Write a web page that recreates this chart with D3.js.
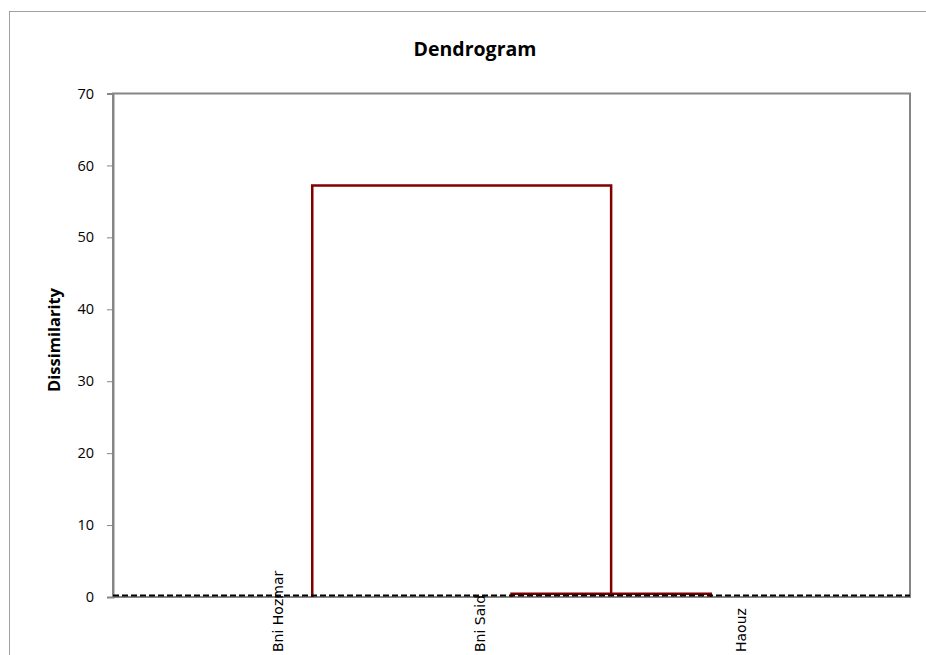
<!DOCTYPE html>
<html>
<head>
<meta charset="utf-8">
<script src="https://cdn.jsdelivr.net/npm/d3@7"></script>
<style>
  body { margin: 0; background: #fff; }
</style>
</head>
<body>
<script>
// leaves, in order along the axis
var leaves = ["Bni Hozmar", "Bni Said", "Haouz"];
var leafPos = [1, 2, 3];
// where excel puts the category labels (axis units)
var labelPos = [0.83, 1.84, 3.15];
// merges: [left pos, right pos, left height, right height, merge height]
var mergeLeft = [2, 1];
var mergeRight = [3, 2.5];
var mergeLowL = [0, 0];
var mergeLowR = [0, 0.45];
var mergeHeight = [0.45, 57.2];
var cutLevel = 0.2;
var yTicks = [0, 10, 20, 30, 40, 50, 60, 70];

var W = 926, H = 655;
var m = {left: 113, right: 16, top: 93.5, bottom: 58};

var svg = d3.select('body').append('svg')
    .attr('width', W)
    .attr('height', H);

// outer chart frame
svg.append('rect')
    .attr('x', 9.5).attr('y', 11.5)
    .attr('width', 930).attr('height', 700)
    .attr('fill', 'none')
    .attr('stroke', '#a0a0a0')
    .attr('stroke-width', 1);

var x = d3.scaleLinear().domain([0, 4]).range([m.left, W - m.right]);
var y = d3.scaleLinear().domain([0, 70]).range([H - m.bottom, m.top]);

// plot area border
svg.append('rect')
    .attr('x', x(0)).attr('y', y(70))
    .attr('width', x(4) - x(0)).attr('height', y(0) - y(70))
    .attr('fill', 'none')
    .attr('stroke', '#868686')
    .attr('stroke-width', 2);

var yAxis = svg.append('g')
    .attr('transform', 'translate(' + x(0) + ',0)')
    .call(d3.axisLeft(y).tickValues(yTicks).tickSize(6).tickPadding(13));
yAxis.select('.domain').attr('stroke', '#868686').attr('stroke-width', 2);
yAxis.selectAll('.tick line').attr('stroke', '#868686').attr('stroke-width', 1);
yAxis.selectAll('.tick text')
    .attr('font-family', 'Open Sans, sans-serif')
    .attr('font-size', 14.5)
    .attr('fill', '#000');

// dendrogram links
var links = svg.append('g')
    .attr('fill', 'none')
    .attr('stroke', '#800000')
    .attr('stroke-width', 2.5);

mergeHeight.forEach(function(h, i) {
  var p = [
    [x(mergeLeft[i]), y(mergeLowL[i])],
    [x(mergeLeft[i]), y(h)],
    [x(mergeRight[i]), y(h)],
    [x(mergeRight[i]), y(mergeLowR[i])]
  ];
  links.append('path').attr('d', d3.line()(p));
});

// truncation line
svg.append('line')
    .attr('x1', x(0)).attr('x2', x(4))
    .attr('y1', y(cutLevel)).attr('y2', y(cutLevel))
    .attr('stroke', '#000')
    .attr('stroke-width', 2)
    .attr('stroke-dasharray', '6,3');

// leaf labels, rotated
svg.append('g').selectAll('text')
    .data(leaves)
    .enter().append('text')
    .attr('transform', function(d, i) {
      return 'translate(' + (x(labelPos[i]) + 5) + ',652) rotate(-90)';
    })
    .attr('font-family', 'DejaVu Sans')
    .attr('font-size', 14)
    .attr('fill', '#000')
    .text(function(d) { return d; });

svg.append('text')
    .attr('x', 475).attr('y', 56)
    .attr('text-anchor', 'middle')
    .attr('font-family', 'Open Sans, sans-serif')
    .attr('font-weight', 'bold')
    .attr('font-size', 19.5)
    .text('Dendrogram');

svg.append('text')
    .attr('transform', 'translate(60,340) rotate(-90)')
    .attr('text-anchor', 'middle')
    .attr('font-family', 'Open Sans, sans-serif')
    .attr('font-weight', 'bold')
    .attr('font-size', 16.5)
    .text('Dissimilarity');
</script>
</body>
</html>
